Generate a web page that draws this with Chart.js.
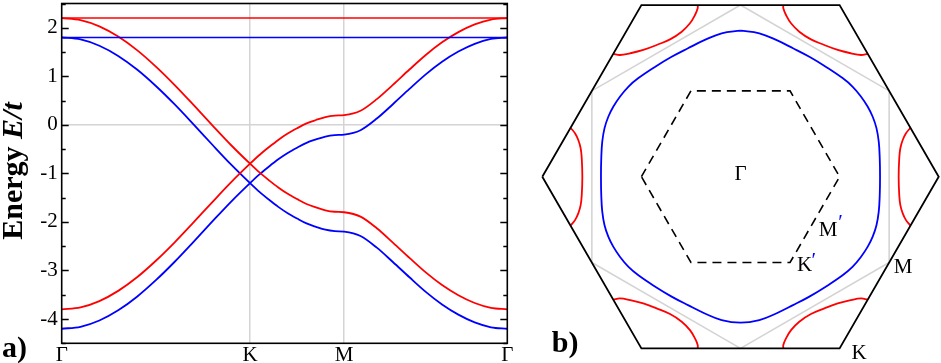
<!DOCTYPE html>
<html>
<head>
<meta charset="utf-8">
<script src="https://cdn.jsdelivr.net/npm/chart.js@4.4.1/dist/chart.umd.min.js"></script>
<style>
  body { margin: 0; background: #fff; }
  #bands { position: absolute; left: 0; top: 0; }
  #zone  { position: absolute; left: 535px; top: 0; }
</style>
</head>
<body>
<canvas id="bands" width="530" height="363"></canvas>
<canvas id="zone" width="406" height="363"></canvas>
<script>
// ---- a) bands along the path G-K-M-G ----
var kPath = [0, 0.1333, 0.2667, 0.4, 0.5333, 0.6667, 0.8, 0.9333, 1.0667, 1.2, 1.3333,
             1.4, 1.4667, 1.5333, 1.6, 1.6667, 1.7333, 1.8, 1.8667, 1.9333, 2,
             2.1155, 2.2309, 2.3464, 2.4619, 2.5774, 2.6928, 2.8083, 2.9238, 3.0392, 3.1547];
var kTicks  = [0, 1.3333, 2, 3.1547];
var kLabels = ["Γ", "K", "M", "Γ"];
var eTicks  = [-4, -3, -2, -1, 0, 1, 2];

var redA  = [2.2, 2.16, 2.03, 1.82, 1.54, 1.2, 0.82, 0.41, -0.01, -0.42, -0.8,
             -0.98, -1.14, -1.29, -1.42, -1.53, -1.63, -1.70, -1.76, -1.79, -1.8,
             -1.89, -2.13, -2.43, -2.74, -3.04, -3.30, -3.51, -3.67, -3.77, -3.8];
var redB  = [-3.8, -3.76, -3.63, -3.42, -3.14, -2.8, -2.42, -2.01, -1.59, -1.18, -0.8,
             -0.62, -0.46, -0.31, -0.18, -0.07, 0.03, 0.10, 0.16, 0.19, 0.2,
             0.29, 0.53, 0.83, 1.14, 1.44, 1.70, 1.91, 2.07, 2.17, 2.2];
var blueA = [1.8, 1.76, 1.63, 1.42, 1.14, 0.8, 0.42, 0.01, -0.41, -0.82, -1.2,
             -1.38, -1.54, -1.69, -1.82, -1.93, -2.03, -2.10, -2.16, -2.19, -2.2,
             -2.29, -2.53, -2.83, -3.14, -3.44, -3.70, -3.91, -4.07, -4.17, -4.2];
var blueB = [-4.2, -4.16, -4.03, -3.82, -3.54, -3.2, -2.82, -2.41, -1.99, -1.58, -1.2,
             -1.02, -0.86, -0.71, -0.58, -0.47, -0.37, -0.30, -0.24, -0.21, -0.2,
             -0.11, 0.13, 0.43, 0.74, 1.04, 1.30, 1.51, 1.67, 1.77, 1.8];
var flatX    = [0, 3.1547];
var flatRed  = [2.2, 2.2];
var flatBlue = [1.8, 1.8];

// ---- b) zone picture (K of the first zone at distance 1) ----
var outerZone = [[-2,0],[-1,1.732],[1,1.732],[2,0],[1,-1.732],[-1,-1.732],[-2,0]];
var firstZone = [[-1,0],[-0.5,0.866],[0.5,0.866],[1,0],[0.5,-0.866],[-0.5,-0.866],[-1,0]];
var grayZone  = [[0,1.732],[1.5,0.866],[1.5,-0.866],[0,-1.732],[-1.5,-0.866],[-1.5,0.866],[0,1.732]];
var blueContour = [
  [0,1.473],[-0.19,1.447],[-0.36,1.38],[-0.53,1.296],[-0.695,1.21],[-0.86,1.11],[-1.03,0.995],
  [-1.13,0.91],[-1.215,0.81],[-1.284,0.706],[-1.334,0.605],[-1.372,0.49],[-1.395,0.353],[-1.405,0.186],
  [-1.408,0],[-1.405,-0.186],[-1.395,-0.353],[-1.372,-0.49],[-1.334,-0.605],[-1.284,-0.706],[-1.215,-0.81],
  [-1.13,-0.91],[-1.03,-0.995],[-0.86,-1.11],[-0.695,-1.21],[-0.53,-1.296],[-0.36,-1.38],[-0.19,-1.447],
  [0,-1.473],[0.19,-1.447],[0.36,-1.38],[0.53,-1.296],[0.695,-1.21],[0.86,-1.11],[1.03,-0.995],
  [1.13,-0.91],[1.215,-0.81],[1.284,-0.706],[1.334,-0.605],[1.372,-0.49],[1.395,-0.353],[1.405,-0.186],
  [1.408,0],[1.405,0.186],[1.395,0.353],[1.372,0.49],[1.334,0.605],[1.284,0.706],[1.215,0.81],
  [1.13,0.91],[1.03,0.995],[0.86,1.11],[0.695,1.21],[0.53,1.296],[0.36,1.38],[0.19,1.447],[0,1.473]];
var pocketTL = [[-0.432,1.732],[-0.432,1.699],[-0.459,1.632],[-0.51,1.548],[-0.593,1.463],[-0.711,1.386],
                [-0.846,1.329],[-0.981,1.279],[-1.115,1.245],[-1.216,1.228],[-1.284,1.24]];
var pocketTR = [[0.432,1.732],[0.432,1.699],[0.459,1.632],[0.51,1.548],[0.593,1.463],[0.711,1.386],
                [0.846,1.329],[0.981,1.279],[1.115,1.245],[1.216,1.228],[1.284,1.24]];
var pocketBL = [[-0.432,-1.732],[-0.432,-1.699],[-0.459,-1.632],[-0.51,-1.548],[-0.593,-1.463],[-0.711,-1.386],
                [-0.846,-1.329],[-0.981,-1.279],[-1.115,-1.245],[-1.216,-1.228],[-1.284,-1.24]];
var pocketBR = [[0.432,-1.732],[0.432,-1.699],[0.459,-1.632],[0.51,-1.548],[0.593,-1.463],[0.711,-1.386],
                [0.846,-1.329],[0.981,-1.279],[1.115,-1.245],[1.216,-1.228],[1.284,-1.24]];
var pocketL  = [[-1.715,0.494],[-1.67,0.438],[-1.637,0.37],[-1.613,0.287],[-1.602,0.186],[-1.596,0],
                [-1.602,-0.186],[-1.613,-0.287],[-1.637,-0.37],[-1.67,-0.438],[-1.715,-0.494]];
var pocketR  = [[1.715,0.494],[1.67,0.438],[1.637,0.37],[1.613,0.287],[1.602,0.186],[1.596,0],
                [1.602,-0.186],[1.613,-0.287],[1.637,-0.37],[1.67,-0.438],[1.715,-0.494]];
var zoneLabels = [
  {text: "Γ", x: 0,     y: 0.02,   color: "#000"},
  {text: "M", x: 0.883, y: -0.538, color: "#000"},
  {text: "′", x: 1.01,  y: -0.47,  color: "#0000ff"},
  {text: "K", x: 0.646, y: -0.891, color: "#000"},
  {text: "′", x: 0.74,  y: -0.86,  color: "#0000ff"},
  {text: "M", x: 1.64,  y: -0.921, color: "#000"},
  {text: "K", x: 1.196, y: -1.785, color: "#000"}
];

var RED = "#ff0000", BLUE = "#0000ff", GRID = "#d4d4d4";
var serif = "'Liberation Serif', 'Times New Roman', serif";

function pts(xs, ys){ return xs.map(function(x, i){ return {x: x, y: ys[i]}; }); }
function pairs(list){ return list.map(function(p){ return {x: p[0], y: p[1]}; }); }

function band(ys, color){
  return { data: pts(kPath, ys), borderColor: color, borderWidth: 1.8,
           pointRadius: 0, cubicInterpolationMode: 'monotone', fill: false };
}

// frame, inward ticks, axis title and panel letter
var bandDecor = {
  id: 'bandDecor',
  afterDraw: function(chart){
    var ctx = chart.ctx, a = chart.chartArea, y = chart.scales.y;
    ctx.save();
    ctx.strokeStyle = "#000";
    ctx.lineWidth = 1.3;
    for (var v = -4.5; v <= 2.5; v += 0.5) {
      var py = Math.round(y.getPixelForValue(v)) + 0.5;
      var len = (v % 1 === 0) ? 7 : 4;
      ctx.beginPath();
      ctx.moveTo(a.left, py); ctx.lineTo(a.left + len, py);
      ctx.moveTo(a.right, py); ctx.lineTo(a.right - len, py);
      ctx.stroke();
    }
    ctx.lineWidth = 1.6;
    ctx.strokeRect(a.left, a.top, a.right - a.left, a.bottom - a.top);

    ctx.fillStyle = "#000";
    ctx.translate(22, 171);
    ctx.rotate(-Math.PI / 2);
    ctx.textBaseline = "alphabetic";
    ctx.font = "bold 30px " + serif;
    var w1 = ctx.measureText("Energy ").width;
    ctx.font = "italic bold 30px " + serif;
    var w2 = ctx.measureText("E/t").width;
    var x0 = -(w1 + w2) / 2;
    ctx.font = "bold 30px " + serif;
    ctx.fillText("Energy ", x0, 0);
    ctx.font = "italic bold 30px " + serif;
    ctx.fillText("E/t", x0 + w1, 0);
    ctx.restore();

    ctx.save();
    ctx.fillStyle = "#000";
    ctx.font = "bold 30px " + serif;
    ctx.textBaseline = "alphabetic";
    ctx.fillText("a)", 2, 357);
    ctx.restore();
  }
};

function noPad(s){ s.paddingTop = 0; s.paddingBottom = 0; s.paddingLeft = 0; s.paddingRight = 0; }

new Chart(document.getElementById("bands"), {
  type: 'line',
  data: {
    datasets: [
      { data: pts(flatX, flatRed),  borderColor: RED,  borderWidth: 1.5, pointRadius: 0 },
      { data: pts(flatX, flatBlue), borderColor: BLUE, borderWidth: 1.5, pointRadius: 0 },
      band(redA, RED), band(redB, RED), band(blueA, BLUE), band(blueB, BLUE)
    ]
  },
  options: {
    responsive: false, animation: false, devicePixelRatio: 1,
    layout: { padding: { top: 3.5, right: 22.7, left: 0, bottom: 0 } },
    plugins: { legend: { display: false }, tooltip: { enabled: false } },
    scales: {
      x: {
        type: 'linear', min: 0, max: 3.1547,
        afterBuildTicks: function(s){ s.ticks = kTicks.map(function(v){ return {value: v}; }); },
        afterFit: function(s){ s.height = 19.7; noPad(s); },
        ticks: { callback: function(v, i){ return kLabels[i]; }, color: "#000",
                 font: { family: serif, size: 21 }, padding: 0, maxRotation: 0, autoSkip: false },
        grid: { drawTicks: false, lineWidth: 1.5,
                color: function(c){ return (c.index === 1 || c.index === 2) ? GRID : 'rgba(0,0,0,0)'; } },
        border: { display: false }
      },
      y: {
        min: -4.5, max: 2.5,
        afterBuildTicks: function(s){ s.ticks = eTicks.map(function(v){ return {value: v}; }); },
        afterFit: function(s){ s.width = 61.7; noPad(s); },
        ticks: { callback: function(v){ return String(v); }, color: "#000",
                 font: { family: serif, size: 21 }, padding: 4 },
        grid: { drawTicks: false, lineWidth: 1.5,
                color: function(c){ return (c.tick && c.tick.value === 0) ? GRID : 'rgba(0,0,0,0)'; } },
        border: { display: false }
      }
    }
  },
  plugins: [bandDecor]
});

// ---- b) ----
function curve(list, color, width, tension, dash){
  return { data: pairs(list), borderColor: color, borderWidth: width, showLine: true,
           pointRadius: 0, tension: tension, borderDash: dash || [], fill: false, clip: false };
}

var zoneText = {
  id: 'zoneText',
  afterDraw: function(chart){
    var ctx = chart.ctx, sx = chart.scales.x, sy = chart.scales.y;
    ctx.save();
    ctx.textAlign = "center";
    ctx.textBaseline = "middle";
    ctx.font = "21px " + serif;
    zoneLabels.forEach(function(l){
      ctx.fillStyle = l.color;
      ctx.fillText(l.text, sx.getPixelForValue(l.x), sy.getPixelForValue(l.y));
    });
    ctx.textAlign = "left";
    ctx.textBaseline = "alphabetic";
    ctx.fillStyle = "#000";
    ctx.font = "bold 30px " + serif;
    ctx.fillText("b)", sx.getPixelForValue(-1.905), sy.getPixelForValue(-1.769));
    ctx.restore();
  }
};

new Chart(document.getElementById("zone"), {
  type: 'scatter',
  data: {
    datasets: [
      curve(outerZone, "#000", 1.8, 0),
      curve(blueContour, BLUE, 1.8, 0.4),
      curve(pocketTL, RED, 1.8, 0.4),
      curve(pocketTR, RED, 1.8, 0.4),
      curve(pocketBL, RED, 1.8, 0.4),
      curve(pocketBR, RED, 1.8, 0.4),
      curve(pocketL, RED, 1.8, 0.4),
      curve(pocketR, RED, 1.8, 0.4),
      curve(firstZone, "#000", 1.6, 0, [9, 6]),
      curve(grayZone, GRID, 1.6, 0)
    ]
  },
  options: {
    responsive: false, animation: false, devicePixelRatio: 1,
    layout: { padding: 0 },
    plugins: { legend: { display: false }, tooltip: { enabled: false } },
    scales: {
      x: { type: 'linear', min: -2.0737, max: 2.0232, display: false },
      y: { type: 'linear', min: -1.8799, max: 1.783, display: false }
    }
  },
  plugins: [zoneText]
});
</script>
</body>
</html>
